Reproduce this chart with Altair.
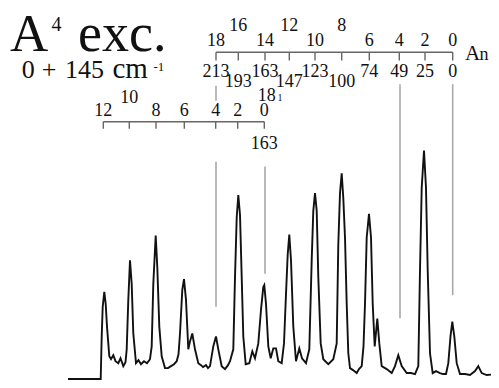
import altair as alt
import pandas as pd

# ---- spectrum trace (position along spectrum, signal) ----
spec_x = [68, 100.7, 101.7, 102.7, 104.3, 105.7, 107, 109.3, 111, 113.3, 115.5, 118.3, 120.5, 123.3, 125.5,
          126.7, 128.3, 130, 131.7, 133.3, 136, 138.5, 141, 144, 147, 150, 151.7, 153.3, 155.7, 157.3,
          159.3, 161.7, 165, 168, 171, 174, 176.7, 178.5, 180, 182.3, 184, 186, 188.3, 190, 192.3, 195,
          198.3, 201, 203, 206, 208, 210, 213.3, 216, 218.3, 221.7, 225, 228, 230, 233.3, 235, 236.7,
          238.3, 240, 241.7, 243.3, 245.7, 249.3, 252.3, 255, 258.3, 261, 263.3, 264.3, 266, 268.3,
          270.7, 273.3, 276, 278.3, 281.7, 284, 286, 287.7, 289.3, 291, 293.3, 296, 299.3, 302, 306,
          309.3, 311.7, 313.3, 315, 316.7, 318.3, 320.7, 323.3, 328.3, 333.3, 336.7, 338.3, 340, 341.7,
          343.3, 345, 346.7, 348.3, 350, 353, 356.7, 359, 361.7, 363.5, 365, 366.7, 369, 371, 372.7,
          374.7, 377.3, 379.3, 381.7, 386.7, 391.7, 395, 398.3, 401.7, 406.7, 411, 415, 418.3, 420,
          421.7, 424, 426, 427.7, 430, 432.7, 436, 440, 443, 446, 448.3, 450.5, 452.3, 454.3, 456.7,
          460, 465, 470, 475, 478.3, 481.7, 486.7, 492, 498.3]
spec_y = [5, 5, 48, 78, 93, 81, 58, 28, 25, 29, 23, 21, 26, 18, 22,
          35, 85, 125, 101, 51, 21, 24, 20, 23, 21, 25, 38, 101, 150, 118,
          58, 28, 16, 16, 18, 20, 23, 30, 51, 95, 106, 85, 35, 43, 51, 35,
          21, 19, 17, 19, 16, 18, 38, 48, 35, 18, 15, 19, 23, 35, 108, 168,
          191, 171, 108, 48, 20, 21, 33, 26, 41, 75, 98, 100, 81, 38,
          26, 36, 36, 23, 21, 41, 91, 131, 151, 125, 58, 23, 36, 26, 21,
          35, 125, 175, 193, 175, 108, 41, 25, 20, 25, 41, 141, 193, 213,
          188, 148, 81, 31, 16, 14, 11, 15, 18, 38, 81, 148, 172, 148, 81,
          38, 66, 41, 18, 15, 11, 18, 29, 18, 11, 11, 10, 18, 115,
          198, 236, 198, 115, 31, 11, 13, 11, 10, 10, 21, 48, 63, 48, 21,
          10, 10, 9, 13, 18, 11, 9, 9.5, 9]

# ---- upper progression (A_n) ----
upper_n = ["18", "16", "14", "12", "10", "8", "6", "4", "2", "0"]
upper_cm = ["213", "193", "163", "147", "123", "100", "74", "49", "25", "0"]
upper_pos = [216, 238.3, 265, 289.3, 315, 341.7, 369.3, 399.3, 425, 452.7]
upper_n_row = [346.3, 362, 346.3, 362, 346.3, 362, 346.3, 346.3, 346.3, 346.3]
upper_cm_row = [315.3, 305.3, 315.3, 305.3, 315.3, 305.3, 315.3, 315.3, 315.3, 315.3]
upper_bar_y, upper_tick_y2 = 335.3, 327

# ---- lower progression (built on 163) ----
lower_n = ["12", "10", "8", "6", "4", "2", "0"]
lower_pos = [103.3, 129.3, 156, 184.3, 215.7, 237.7, 264.3]
lower_n_row = [276, 289, 276, 276, 276, 276, 276]
lower_bar_y, lower_tick_y2 = 265, 258

# ---- assignment drop lines ----
drop_x = [216, 216, 265, 400, 452.7]
drop_top = [301.3, 224.7, 219.7, 303, 303]
drop_bot = [286.3, 78, 111.3, 66.3, 89.7]

FONT = "Liberation Serif"
X = alt.Scale(domain=[8, 491], nice=False, zero=False)
Y = alt.Scale(domain=[4, 380], nice=False, zero=False)


def xe():
    return alt.X("x:Q", scale=X, axis=None)


def ye():
    return alt.Y("y:Q", scale=Y, axis=None)


spec = pd.DataFrame({"x": spec_x, "y": spec_y})
line = alt.Chart(spec).mark_line(color="#111111", strokeWidth=1.9, clip=True).encode(x=xe(), y=ye())

drops = alt.Chart(pd.DataFrame({"x": drop_x, "y": drop_top, "y2": drop_bot})).mark_rule(
    color="#a8a8a8", strokeWidth=1.6).encode(x=xe(), y=ye(), y2=alt.Y2("y2:Q"))

bars = alt.Chart(pd.DataFrame({
    "x": [upper_pos[0], lower_pos[0]], "x2": [upper_pos[-1], lower_pos[-1]],
    "y": [upper_bar_y, lower_bar_y]})).mark_rule(color="#666666", strokeWidth=1.4).encode(
    x=xe(), x2=alt.X2("x2:Q"), y=ye())

ticks = alt.Chart(pd.DataFrame({
    "x": upper_pos + lower_pos,
    "y": [upper_bar_y] * len(upper_pos) + [lower_bar_y] * len(lower_pos),
    "y2": [upper_tick_y2] * len(upper_pos) + [lower_tick_y2] * len(lower_pos)})).mark_rule(
    color="#666666", strokeWidth=1.4).encode(x=xe(), y=ye(), y2=alt.Y2("y2:Q"))

num_df = pd.DataFrame({
    "x": upper_pos + upper_pos + lower_pos + [264.3, 266.7],
    "y": upper_n_row + upper_cm_row + lower_n_row + [243, 291.3],
    "t": upper_n + upper_cm + lower_n + ["163", "18"]})
nums = alt.Chart(num_df).mark_text(font=FONT, fontSize=18, color="#111111",
                                   align="center", baseline="middle").encode(
    x=xe(), y=ye(), text="t:N")

# left-aligned free texts: (x, y, text, font size)
free_x = [10, 51.5, 78, 21.7, 41.7, 65, 112.5, 153.5, 465, 479.5, 277.5]
free_y = [336.3, 356.3, 336.3, 309.7, 309.7, 309.7, 309.7, 316.5, 327, 327, 286]
free_t = ["A", "4", "exc.", "0", "+", "145", "cm", "-1", "A", "n", "1"]
free_fs = [53, 20, 54, 26, 26, 26, 29, 13, 21, 18, 10]

free_layers = []
for xx, yy, tt, fs in zip(free_x, free_y, free_t, free_fs):
    free_layers.append(
        alt.Chart(pd.DataFrame({"x": [xx], "y": [yy], "t": [tt]})).mark_text(
            font=FONT, fontSize=fs, color="#111111", align="left", baseline="alphabetic").encode(
            x=xe(), y=ye(), text="t:N"))

chart = alt.layer(drops, line, bars, ticks, nums, *free_layers).properties(
    width=483, height=372, padding=0, autosize=alt.AutoSizeParams(type="none"),
    background="white").configure_view(stroke=None)

chart.save("out.html", embed_options={"renderer": "svg", "actions": False})
